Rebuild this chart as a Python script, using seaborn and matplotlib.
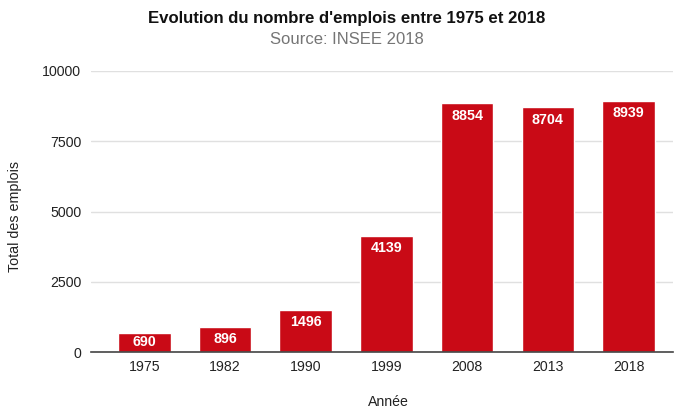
import matplotlib
matplotlib.use("Agg")
import matplotlib.pyplot as plt
import seaborn as sns
import pandas as pd

# Employment totals by census year
years = ["1975", "1982", "1990", "1999", "2008", "2013", "2018"]
jobs = [690, 896, 1496, 4139, 8854, 8704, 8939]
y_ticks = [0, 2500, 5000, 7500, 10000]

title = "Evolution du nombre d'emplois entre 1975 et 2018"
subtitle = "Source: INSEE 2018"
x_label = "Année"
y_label = "Total des emplois"

BAR_COLOR = "#c90a16"

sns.set_theme(style="white")
plt.rcParams["font.family"] = ["Liberation Sans", "DejaVu Sans"]

df = pd.DataFrame({"Année": years, "Emplois": jobs})

W, H, DPI = 678, 409, 100
fig = plt.figure(figsize=(W / DPI, H / DPI), dpi=DPI)
# axes box in pixel coordinates
left, right, top, bottom = 91, 673, 71, 352
ax = fig.add_axes([left / W, (H - bottom) / H, (right - left) / W, (bottom - top) / H])

sns.barplot(data=df, x="Année", y="Emplois", color=BAR_COLOR, width=0.65,
            saturation=1, ax=ax, zorder=3)

ax.set_ylim(0, 10000)
ax.set_xlim(-0.66, 6.55)
ax.set_yticks(y_ticks)
ax.set_yticklabels([str(t) for t in y_ticks])
ax.yaxis.grid(True, color="#e0e0e0", linewidth=1, zorder=0)
for s in ["top", "right", "left"]:
    ax.spines[s].set_visible(False)
ax.spines["bottom"].set_color("#444444")
ax.spines["bottom"].set_linewidth(1.2)
ax.spines["bottom"].set_zorder(4)
ax.tick_params(axis="both", length=0, labelsize=10.2, colors="#222222")
ax.tick_params(axis="y", pad=7)
ax.tick_params(axis="x", pad=6)
ax.set_xlabel("")
ax.set_ylabel("")

# value labels in white, just below the top of each bar
px_per_unit = (bottom - top) / 10000
for i, v in enumerate(jobs):
    bar_px = v * px_per_unit
    off = min(12.5, bar_px / 2)
    ax.annotate(str(v), xy=(i, v), xytext=(0, -off), textcoords="offset pixels",
                ha="center", va="center", color="white", fontsize=10.3,
                fontweight="bold", zorder=5)

fig.text(347 / W, 1 - 18 / H, title, ha="center", va="center",
         fontsize=12.1, fontweight="bold", color="#111111")
fig.text(347 / W, 1 - 40 / H, subtitle, ha="center", va="center",
         fontsize=12, color="#757575")
fig.text(388 / W, 1 - 402 / H, x_label, ha="center", va="center",
         fontsize=10.2, color="#222222")
fig.text(15 / W, 1 - 217 / H, y_label, ha="center", va="center",
         rotation=90, fontsize=10.3, color="#222222")

fig.savefig("out.png", dpi=DPI)
